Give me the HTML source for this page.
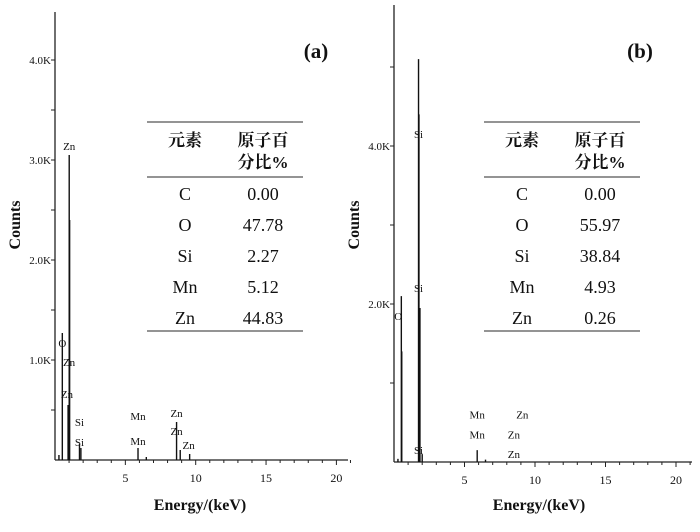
<!DOCTYPE html>
<html><head><meta charset="utf-8"><style>
body{margin:0;background:#fff}
svg text{font-family:"Liberation Serif","Noto Serif CJK SC",serif;fill:#111}
</style></head><body>
<svg id="c" width="700" height="527"></svg>
<script>
const elementsA=["C","O","Si","Mn","Zn"];
const percentA=["0.00","47.78","2.27","5.12","44.83"];
const percentB=["0.00","55.97","38.84","4.93","0.26"];
const peakEnergyA=[0.28,0.52,0.93,1.01,1.04,1.74,1.84,5.9,6.49,8.64,8.9,9.57];
const peakCountsA=[0.05,1.27,0.55,3.05,2.4,0.16,0.12,0.12,0.03,0.38,0.1,0.06];
const peakEnergyB=[0.28,0.52,0.55,1.74,1.77,1.84,2.0,5.9,6.49];
const peakCountsB=[0.04,2.1,1.4,5.1,4.4,1.95,0.1,0.15,0.03];
const xTicks=[5,10,15,20];
const yTicksA=["1.0K","2.0K","3.0K","4.0K"];
const yTicksB=["2.0K","4.0K"];
const labelsA=[["O",0.52,1.13],["Zn",1.01,3.1],["Zn",1.0,0.94],["Zn",0.85,0.62],["Si",1.74,0.34],["Si",1.74,0.14],["Mn",5.9,0.4],["Mn",5.9,0.15],["Zn",8.64,0.43],["Zn",8.64,0.25],["Zn",9.5,0.11]];
const labelsB=[["O",0.3,1.8],["Si",1.74,4.1],["Si",1.74,2.15],["Si",1.74,0.1],["Mn",5.9,0.55],["Mn",5.9,0.3],["Zn",9.1,0.55],["Zn",8.5,0.3],["Zn",8.5,0.05]];
const S="http://www.w3.org/2000/svg",svg=document.getElementById('c');
function mk(t,a,p,txt){const e=document.createElementNS(S,t);for(const k in a)e.setAttribute(k,a[k]);if(txt!==undefined)e.textContent=txt;(p||svg).appendChild(e);return e;}
function panel(o){
 const g=mk('g',{});
 
 
 const X=v=>o.x0+v*o.kx, Y=v=>o.y0-v*o.ky;
 mk('line',{x1:o.x0,y1:o.top,x2:o.x0,y2:o.y0,stroke:'#222','stroke-width':1.3},g);
 mk('line',{x1:o.x0,y1:o.y0,x2:o.xend,y2:o.y0,stroke:'#222','stroke-width':1.3},g);
 for(let v=1;v<=21;v++){mk('line',{x1:X(v),y1:o.y0,x2:X(v),y2:o.y0+(v%5?3:5),stroke:'#222'},g);}
 xTicks.forEach(v=>{const t=mk('text',{x:X(v),y:o.y0+22,'text-anchor':'middle','font-size':12},g,v);});
 for(let k=o.ystep/2;k<=o.ymax;k+=o.ystep/2){mk('line',{x1:o.x0-4,y1:Y(k),x2:o.x0,y2:Y(k),stroke:'#222'},g);}
 o.yt.forEach((s,i)=>{const t=mk('text',{x:o.x0-4,y:Y((i+1)*o.ystep)+4,'text-anchor':'end','font-size':11},g,s);});
 o.pe.forEach((e,i)=>{const l=mk('line',{x1:X(e),y1:o.y0,x2:X(e),y2:Y(o.pc[i]),stroke:'#111','stroke-width':1.4},g);});
 o.lab.forEach(a=>{const t=mk('text',{x:X(a[1]),y:Y(a[2]),'text-anchor':'middle','font-size':11},g,a[0]);});
 const yt=mk('text',{transform:`translate(${o.x0-35},${o.ctr}) rotate(-90)`,'text-anchor':'middle','font-size':16,'font-weight':'bold'},g,'Counts');
 
 const xt=mk('text',{x:o.x0+145,y:510,'text-anchor':'middle','font-size':16,'font-weight':'bold'},g,'Energy/(keV)');
 
 const pl=mk('text',{x:o.px,y:58,'text-anchor':'middle','font-size':21,'font-weight':'bold'},g,'('+o.id+')');
 
 const tb=mk('g',{},g);
 [122,177,331].forEach(y=>mk('line',{x1:o.tx,y1:y,x2:o.tx+156,y2:y,stroke:'#555','stroke-width':1.2},tb));
 const c1=o.tx+38,c2=o.tx+116;
 mk('text',{x:c1,y:146,'text-anchor':'middle','font-size':17,'font-weight':'bold'},tb,'元素');
 mk('text',{x:c2,y:146,'text-anchor':'middle','font-size':17,'font-weight':'bold'},tb,'原子百');
 mk('text',{x:c2,y:168,'text-anchor':'middle','font-size':17,'font-weight':'bold'},tb,'分比%');
 elementsA.forEach((e,i)=>{const y=200+i*31;
  mk('text',{x:c1,y:y,'text-anchor':'middle','font-size':18},tb,e);
  mk('text',{x:c2,y:y,'text-anchor':'middle','font-size':18},tb,o.pct[i]);});
}
panel({id:'a',x0:55,y0:460,top:12,xend:348,kx:14.07,ky:100,ymax:4.4,ystep:1,yt:yTicksA,pe:peakEnergyA,pc:peakCountsA,lab:labelsA,ctr:225,px:316,tx:147,pct:percentA});
panel({id:'b',x0:394,y0:462,top:5,xend:692,kx:14.1,ky:79,ymax:5.6,ystep:2,yt:yTicksB,pe:peakEnergyB,pc:peakCountsB,lab:labelsB,ctr:225,px:640,tx:484,pct:percentB});
</script>
</body></html>
